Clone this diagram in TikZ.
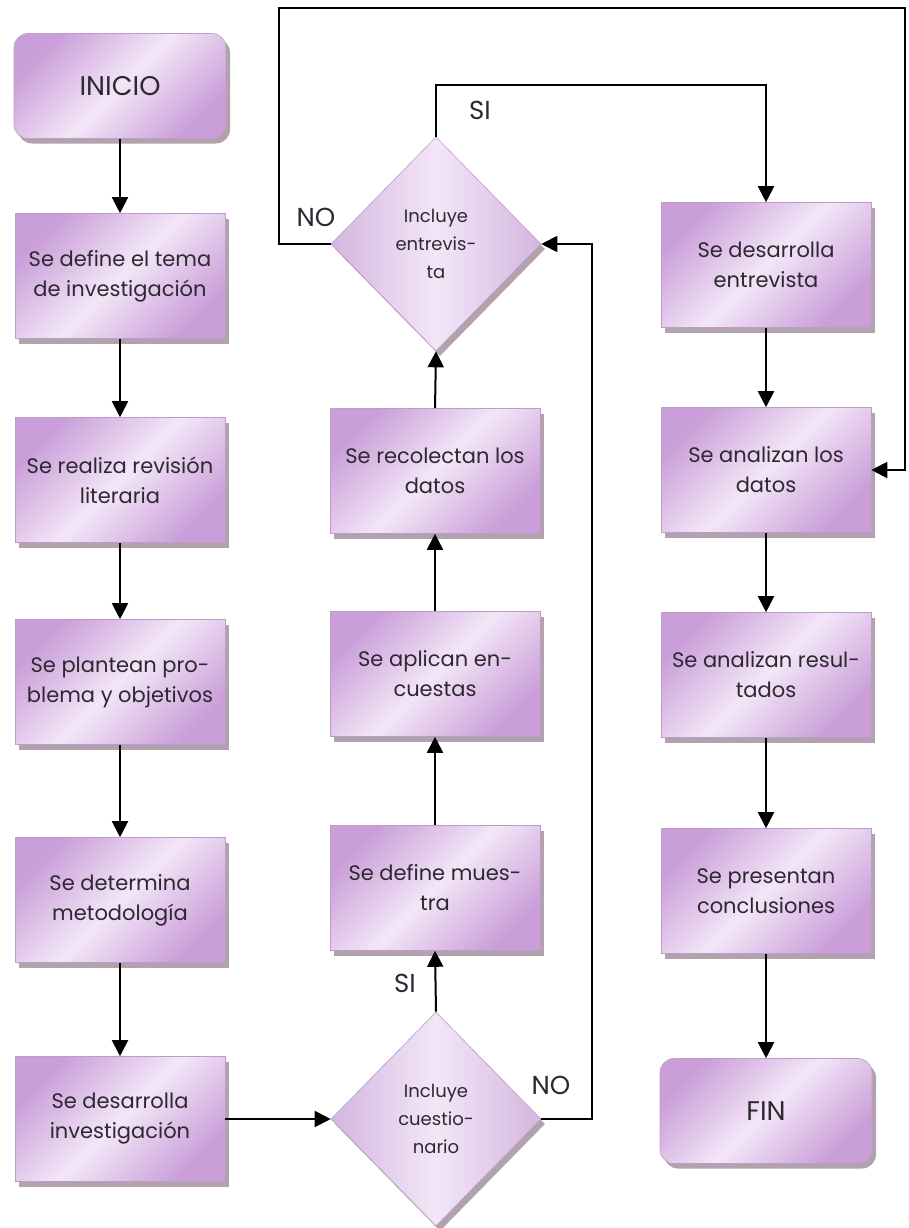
\documentclass[tikz,border=0pt]{standalone}
\usepackage{fontspec}
\setmainfont{Poppins}
\usetikzlibrary{shapes.geometric,arrows.meta,shadows}
\definecolor{pLight}{HTML}{F3E6F7}
\definecolor{pDark}{HTML}{CA9FD9}
\definecolor{dDark}{HTML}{D4B6E0}
\definecolor{pEdge}{HTML}{BC9CCA}
\definecolor{pShadow}{HTML}{A5929F}
\definecolor{ink}{HTML}{2E2833}
\begin{document}
\begin{tikzpicture}[x=1pt,y=-1pt,
  fillstyle/.style={draw=pEdge, line width=0.6pt, left color=pDark, right color=pDark, middle color=pLight, shading angle=45,
    drop shadow={shadow xshift=4pt, shadow yshift=-5pt, fill=pShadow, opacity=0.85}},
  box/.style={rectangle, fillstyle, minimum width=210pt, minimum height=125pt, inner sep=0pt,
    font=\fontsize{21}{30}\selectfont, text=ink, align=center},
  term/.style={box, rounded corners=14pt, minimum height=105pt, minimum width=212pt, font=\fontsize{27}{30}\selectfont},
  dec/.style={diamond, fillstyle, left color=dDark, right color=dDark, middle color=pLight, minimum width=210pt, minimum height=214pt, inner sep=0pt,
    font=\fontsize{18}{28}\selectfont, text=ink, align=center},
  line/.style={draw=black, line width=2pt},
  arr/.style={line, -{Triangle[width=16pt,length=16pt]}},
  lbl/.style={font=\fontsize{26}{28}\selectfont, text=ink}
]
\fill[white] (0,0) rectangle (909,1228);
\useasboundingbox (0,0) rectangle (909,1228);

% left column
\node[term] (inicio) at (120,86) {INICIO};
\node[box] (b2) at (120,276) {Se define el tema\\de investigación};
\node[box] (b3) at (120,480) {Se realiza revisión\\literaria};
\node[box] (b4) at (120,682) {Se plantean pro-\\blema y objetivos};
\node[box] (b5) at (120,900) {Se determina\\metodología};
\node[box] (b6) at (120,1119) {Se desarrolla\\investigación};

% middle column
\node[dec] (d1) at (436,244) {Incluye\\entrevis-\\ta};
\node[box] (m1) at (435,471) {Se recolectan los\\datos};
\node[box] (m2) at (435,674) {Se aplican en-\\cuestas};
\node[box] (m3) at (435,888) {Se define mues-\\tra};
\node[dec] (d2) at (436,1119) {Incluye\\cuestio-\\nario};

% right column
\node[box] (r1) at (766,265) {Se desarrolla\\entrevista};
\node[box] (r2) at (766,470) {Se analizan los\\datos};
\node[box] (r3) at (766,675) {Se analizan resul-\\tados};
\node[box] (r4) at (766,891) {Se presentan\\conclusiones};
\node[term] (fin) at (766,1111) {FIN};

% helper coordinates
\coordinate (nx) at (592,600);
\coordinate (siy) at (600,85);
\coordinate (tl) at (279,8);
\coordinate (tr) at (905,8);

% connectors left
\draw[arr] (inicio.south) -- (b2.north);
\draw[arr] (b2.south) -- (b3.north);
\draw[arr] (b3.south) -- (b4.north);
\draw[arr] (b4.south) -- (b5.north);
\draw[arr] (b5.south) -- (b6.north);
\draw[arr] (b6.east) -- (d2.west);

% middle
\draw[arr] (d2.north) -- (m3.south);
\draw[arr] (m3.north) -- (m2.south);
\draw[arr] (m2.north) -- (m1.south);
\draw[arr] (m1.north) -- (d1.south);
\draw[arr] (d2.east) -| (nx) |- (d1.east);
\draw[arr] (d1.north) |- (siy) -| (r1.north);
\draw[arr] (d1.west) -| (tl) -- (tr) |- (r2.east);

% right
\draw[arr] (r1.south) -- (r2.north);
\draw[arr] (r2.south) -- (r3.north);
\draw[arr] (r3.south) -- (r4.north);
\draw[arr] (r4.south) -- (fin.north);

% labels
\node[lbl] (lsi1) at (480,110) {SI};
\node[lbl] (lno1) at (316,217) {NO};
\node[lbl] (lsi2) at (405,983) {SI};
\node[lbl] (lno2) at (551,1085) {NO};
\end{tikzpicture}
\end{document}
